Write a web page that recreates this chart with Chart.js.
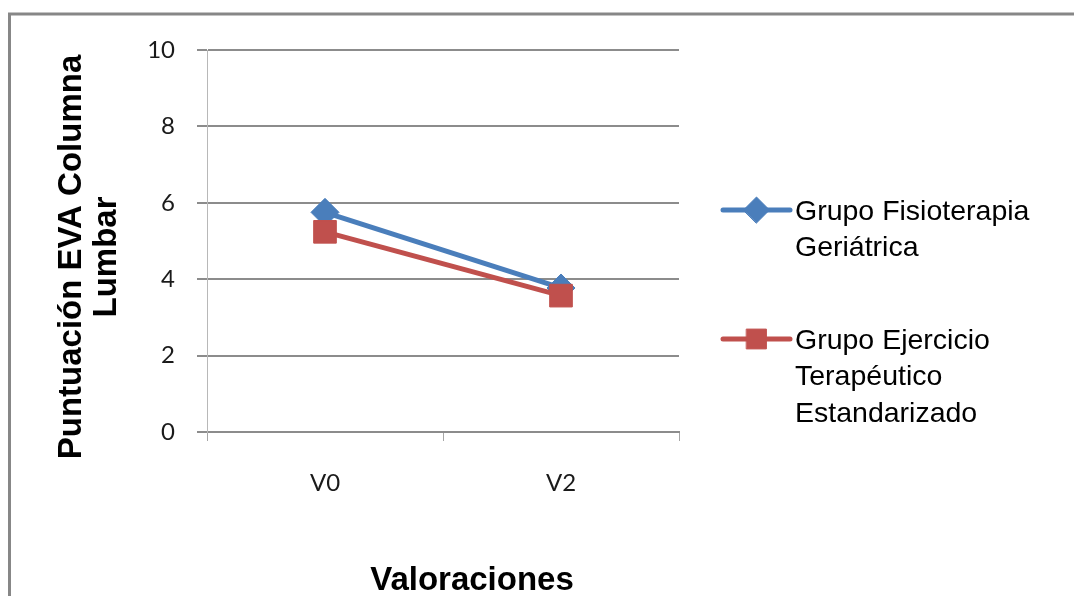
<!DOCTYPE html>
<html lang="es">
<head>
<meta charset="utf-8">
<title>Puntuación EVA Columna Lumbar</title>
<script src="https://cdn.jsdelivr.net/npm/chart.js@4/dist/chart.umd.min.js"></script>
<style>
  html, body { margin: 0; padding: 0; background: #ffffff; }
  #wrap { width: 1074px; height: 596px; }
</style>
</head>
<body>
<div id="wrap"><canvas id="chart" width="1074" height="596"></canvas></div>
<script>
// Assessment points on the x axis
const categories = ['V0', 'V2'];

// Mean EVA score per group
const fisioterapiaGeriatrica = [5.75, 3.77];
const ejercicioTerapeutico = [5.24, 3.57];

// Legend names, one entry per line
const nameFisioterapia = ['Grupo Fisioterapia', 'Geriátrica'];
const nameEjercicio = ['Grupo Ejercicio', 'Terapéutico', 'Estandarizado'];

// Axis range and titles
const yMin = 0;
const yMax = 10;
const yStep = 2;
const yTitleLines = ['Puntuación EVA Columna', 'Lumbar'];
const xTitle = 'Valoraciones';

const BLUE = '#4a7ebb';
const RED = '#c0504d';
const GRID = '#8c8c8c';

// White background and the outer frame of the chart object
const framePlugin = {
  id: 'frame',
  beforeDraw(chart) {
    const ctx = chart.ctx;
    ctx.save();
    ctx.fillStyle = '#ffffff';
    ctx.fillRect(0, 0, chart.width, chart.height);
    ctx.strokeStyle = '#878787';
    ctx.lineWidth = 3;
    ctx.beginPath();
    ctx.moveTo(9.5, chart.height + 2);
    ctx.lineTo(9.5, 14);
    ctx.lineTo(chart.width + 2, 14);
    ctx.stroke();
    ctx.restore();
  }
};

// Axis titles, bold, placed around the plot area
const axisTitlePlugin = {
  id: 'axisTitles',
  afterDraw(chart) {
    const ctx = chart.ctx;
    const area = chart.chartArea;
    ctx.save();
    ctx.fillStyle = '#000000';
    ctx.font = 'bold 33px "Liberation Sans", Arial, sans-serif';
    ctx.textAlign = 'center';
    ctx.textBaseline = 'middle';
    // y title, rotated, two lines
    const cy = (area.top + area.bottom) / 2 + 16;
    yTitleLines.forEach((line, i) => {
      ctx.save();
      ctx.translate(72 + i * 35, cy);
      ctx.rotate(-Math.PI / 2);
      ctx.fillText(line, 0, 0);
      ctx.restore();
    });
    // x title
    ctx.fillText(xTitle, (area.left + area.right) / 2 + 29, 581);
    ctx.restore();
  }
};

// Legend at the right: line with marker, then the multi-line name
const legendPlugin = {
  id: 'sideLegend',
  afterDraw(chart) {
    const ctx = chart.ctx;
    const area = chart.chartArea;
    const x0 = area.right + 44;
    const lineLen = 67;
    const lineGap = 36.5;
    let y = 210;
    ctx.save();
    ctx.font = '28.5px "Liberation Sans", Arial, sans-serif';
    ctx.textBaseline = 'middle';
    ctx.textAlign = 'left';
    chart.data.datasets.forEach(ds => {
      ctx.strokeStyle = ds.borderColor;
      ctx.lineWidth = ds.borderWidth;
      ctx.lineCap = 'round';
      ctx.beginPath();
      ctx.moveTo(x0, y);
      ctx.lineTo(x0 + lineLen, y);
      ctx.stroke();
      ctx.fillStyle = ds.pointBackgroundColor;
      ctx.strokeStyle = ds.pointBorderColor;
      ctx.lineWidth = ds.pointBorderWidth;
      Chart.helpers.drawPoint(ctx, {
        pointStyle: ds.pointStyle,
        radius: ds.legendPointRadius,
        borderWidth: ds.pointBorderWidth,
        rotation: 0
      }, x0 + lineLen / 2, y);
      ctx.fillStyle = '#000000';
      ds.legendLines.forEach((line, i) => {
        ctx.fillText(line, x0 + lineLen + 5, y + 2 + i * lineGap);
      });
      y += ds.legendLines.length * lineGap + 56;
    });
    ctx.restore();
  }
};

const chart = new Chart(document.getElementById('chart'), {
  type: 'line',
  data: {
    labels: categories,
    datasets: [
      {
        label: nameFisioterapia.join(' '),
        legendLines: nameFisioterapia,
        data: fisioterapiaGeriatrica,
        borderColor: BLUE,
        backgroundColor: BLUE,
        borderWidth: 5,
        pointStyle: 'rectRot',
        pointRadius: 14,
        legendPointRadius: 13,
        pointBackgroundColor: BLUE,
        pointBorderColor: BLUE,
        pointBorderWidth: 1,
        tension: 0,
        order: 2
      },
      {
        label: nameEjercicio.join(' '),
        legendLines: nameEjercicio,
        data: ejercicioTerapeutico,
        borderColor: RED,
        backgroundColor: RED,
        borderWidth: 5,
        pointStyle: 'rect',
        pointRadius: 16,
        legendPointRadius: 14,
        pointBackgroundColor: RED,
        pointBorderColor: RED,
        pointBorderWidth: 1,
        tension: 0,
        order: 1
      }
    ]
  },
  options: {
    responsive: false,
    animation: false,
    devicePixelRatio: 1,
    layout: { padding: { left: 0, top: 50, right: 395, bottom: 0 } },
    plugins: {
      legend: { display: false },
      tooltip: { enabled: false },
      title: { display: false }
    },
    scales: {
      x: {
        type: 'category',
        offset: true,
        afterFit(scale) { scale.height = 164; },
        grid: {
          offset: true,
          drawOnChartArea: false,
          drawTicks: true,
          tickLength: 9,
          color: '#a6a6a6',
          lineWidth: 1
        },
        border: { display: true, color: GRID, width: 2 },
        ticks: {
          padding: 28,
          color: '#1a1a1a',
          font: { family: 'Lato, "Open Sans", sans-serif', size: 24 }
        }
      },
      y: {
        min: yMin,
        max: yMax,
        afterFit(scale) { scale.width = 207; },
        grid: {
          drawOnChartArea: true,
          drawTicks: true,
          tickLength: 10,
          color: GRID,
          lineWidth: 2
        },
        border: { display: true, color: '#b8b8b8', width: 1 },
        ticks: {
          stepSize: yStep,
          padding: 22,
          color: '#1a1a1a',
          font: { family: 'Lato, "Open Sans", sans-serif', size: 24 }
        }
      }
    }
  },
  plugins: [framePlugin, axisTitlePlugin, legendPlugin]
});
</script>
</body>
</html>
